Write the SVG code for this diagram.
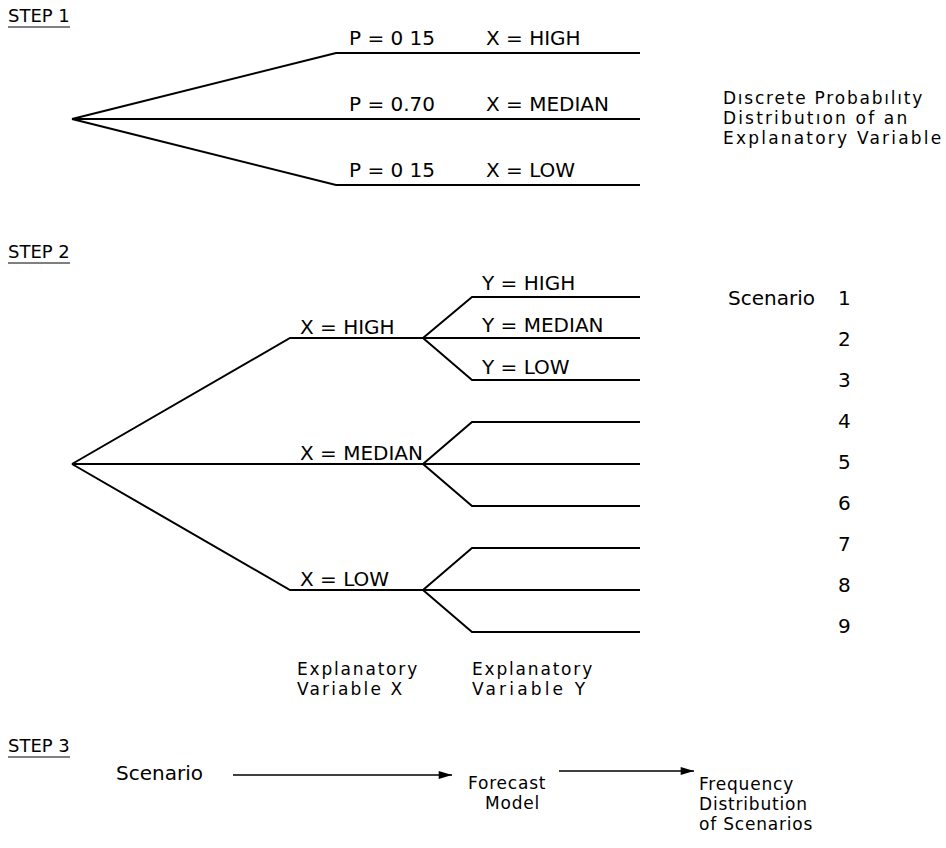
<svg xmlns="http://www.w3.org/2000/svg" width="946" height="848" viewBox="0 0 946 848">
<style>
text{font-family:"DejaVu Sans","Liberation Sans",sans-serif;font-size:20px;fill:#000}
.st{font-size:18px}
.ml{font-size:17px;letter-spacing:0.8px}
.br{fill:none;stroke:#000;stroke-width:2;stroke-linejoin:miter}
.ul{stroke:#000;stroke-width:1}
.ar{stroke:#000;stroke-width:1.5;fill:none}
</style>
<defs>
<marker id="ah" viewBox="0 0 10 6" refX="10" refY="3" markerWidth="16" markerHeight="8" markerUnits="userSpaceOnUse" orient="auto">
<path d="M0,0L10,3L0,6z" fill="#000"/>
</marker>
</defs>
<rect width="946" height="848" fill="#fff"/>
<!-- STEP 1 -->
<g id="step1-title"><text class="st" x="8" y="22">STEP 1</text><line class="ul" x1="8" y1="27" x2="70" y2="27"/></g>
<g id="connectors-step1">
<path class="br" d="M72,119 L336,53 L640,53"/>
<path class="br" d="M72,119 L640,119"/>
<path class="br" d="M72,119 L336,185 L640,185"/>
</g>
<g id="s1-high"><text x="349" y="45">P = 0 15</text><text x="486" y="45">X = HIGH</text></g>
<g id="s1-median"><text x="349" y="111">P = 0.70</text><text x="486" y="111">X = MEDIAN</text></g>
<g id="s1-low"><text x="349" y="177">P = 0 15</text><text x="486" y="177">X = LOW</text></g>
<g id="s1-note">
<text class="ml" x="723" y="104" textLength="200" lengthAdjust="spacing">Dıscrete Probabılıty</text>
<text class="ml" x="723" y="124" textLength="185" lengthAdjust="spacing">Distributıon of an</text>
<text class="ml" x="723" y="144" textLength="219" lengthAdjust="spacing">Explanatory Variable</text>
</g>
<!-- STEP 2 -->
<g id="step2-title"><text class="st" x="8" y="258">STEP 2</text><line class="ul" x1="8" y1="263" x2="70" y2="263"/></g>
<g id="connectors-step2">
<path class="br" d="M72,464 L290,338 L423,338"/>
<path class="br" d="M72,464 L423,464"/>
<path class="br" d="M72,464 L290,590 L423,590"/>
<path class="br" d="M423,338 L472,297 L640,297"/>
<path class="br" d="M423,338 L640,338"/>
<path class="br" d="M423,338 L472,380 L640,380"/>
<path class="br" d="M423,464 L472,422 L640,422"/>
<path class="br" d="M423,464 L640,464"/>
<path class="br" d="M423,464 L472,506 L640,506"/>
<path class="br" d="M423,590 L472,548 L640,548"/>
<path class="br" d="M423,590 L640,590"/>
<path class="br" d="M423,590 L472,632 L640,632"/>
</g>
<g id="x-high"><text x="300" y="334">X = HIGH</text></g>
<g id="x-median"><text x="300" y="460">X = MEDIAN</text></g>
<g id="x-low"><text x="300" y="586">X = LOW</text></g>
<g id="y-high"><text x="482" y="290">Y = HIGH</text></g>
<g id="y-median"><text x="482" y="332">Y = MEDIAN</text></g>
<g id="y-low"><text x="482" y="374">Y = LOW</text></g>
<g id="scenarios">
<text x="728" y="305">Scenario</text>
<text x="838" y="305">1</text>
<text x="838" y="346">2</text>
<text x="838" y="387">3</text>
<text x="838" y="428">4</text>
<text x="838" y="469">5</text>
<text x="838" y="510">6</text>
<text x="838" y="551">7</text>
<text x="838" y="592">8</text>
<text x="838" y="633">9</text>
</g>
<g id="var-x"><text class="ml" x="297" y="675" textLength="121" lengthAdjust="spacing">Explanatory</text><text class="ml" x="297" y="695" textLength="106" lengthAdjust="spacing">Variable X</text></g>
<g id="var-y"><text class="ml" x="472" y="675" textLength="121" lengthAdjust="spacing">Explanatory</text><text class="ml" x="472" y="695" textLength="114" lengthAdjust="spacing">Variable Y</text></g>
<!-- STEP 3 -->
<g id="step3-title"><text class="st" x="8" y="752">STEP 3</text><line class="ul" x1="8" y1="757" x2="70" y2="757"/></g>
<g id="scenario"><text x="116" y="780">Scenario</text></g>
<g id="forecast"><text class="ml" x="468" y="789">Forecast</text><text class="ml" x="485" y="809">Model</text></g>
<g id="frequency"><text class="ml" x="699" y="790">Frequency</text><text class="ml" x="699" y="810">Distribution</text><text class="ml" x="699" y="830">of Scenarios</text></g>
<g id="connectors-step3">
<line class="ar" x1="233" y1="775" x2="452" y2="775" marker-end="url(#ah)"/>
<line class="ar" x1="559" y1="771" x2="694" y2="771" marker-end="url(#ah)"/>
</g>
</svg>
